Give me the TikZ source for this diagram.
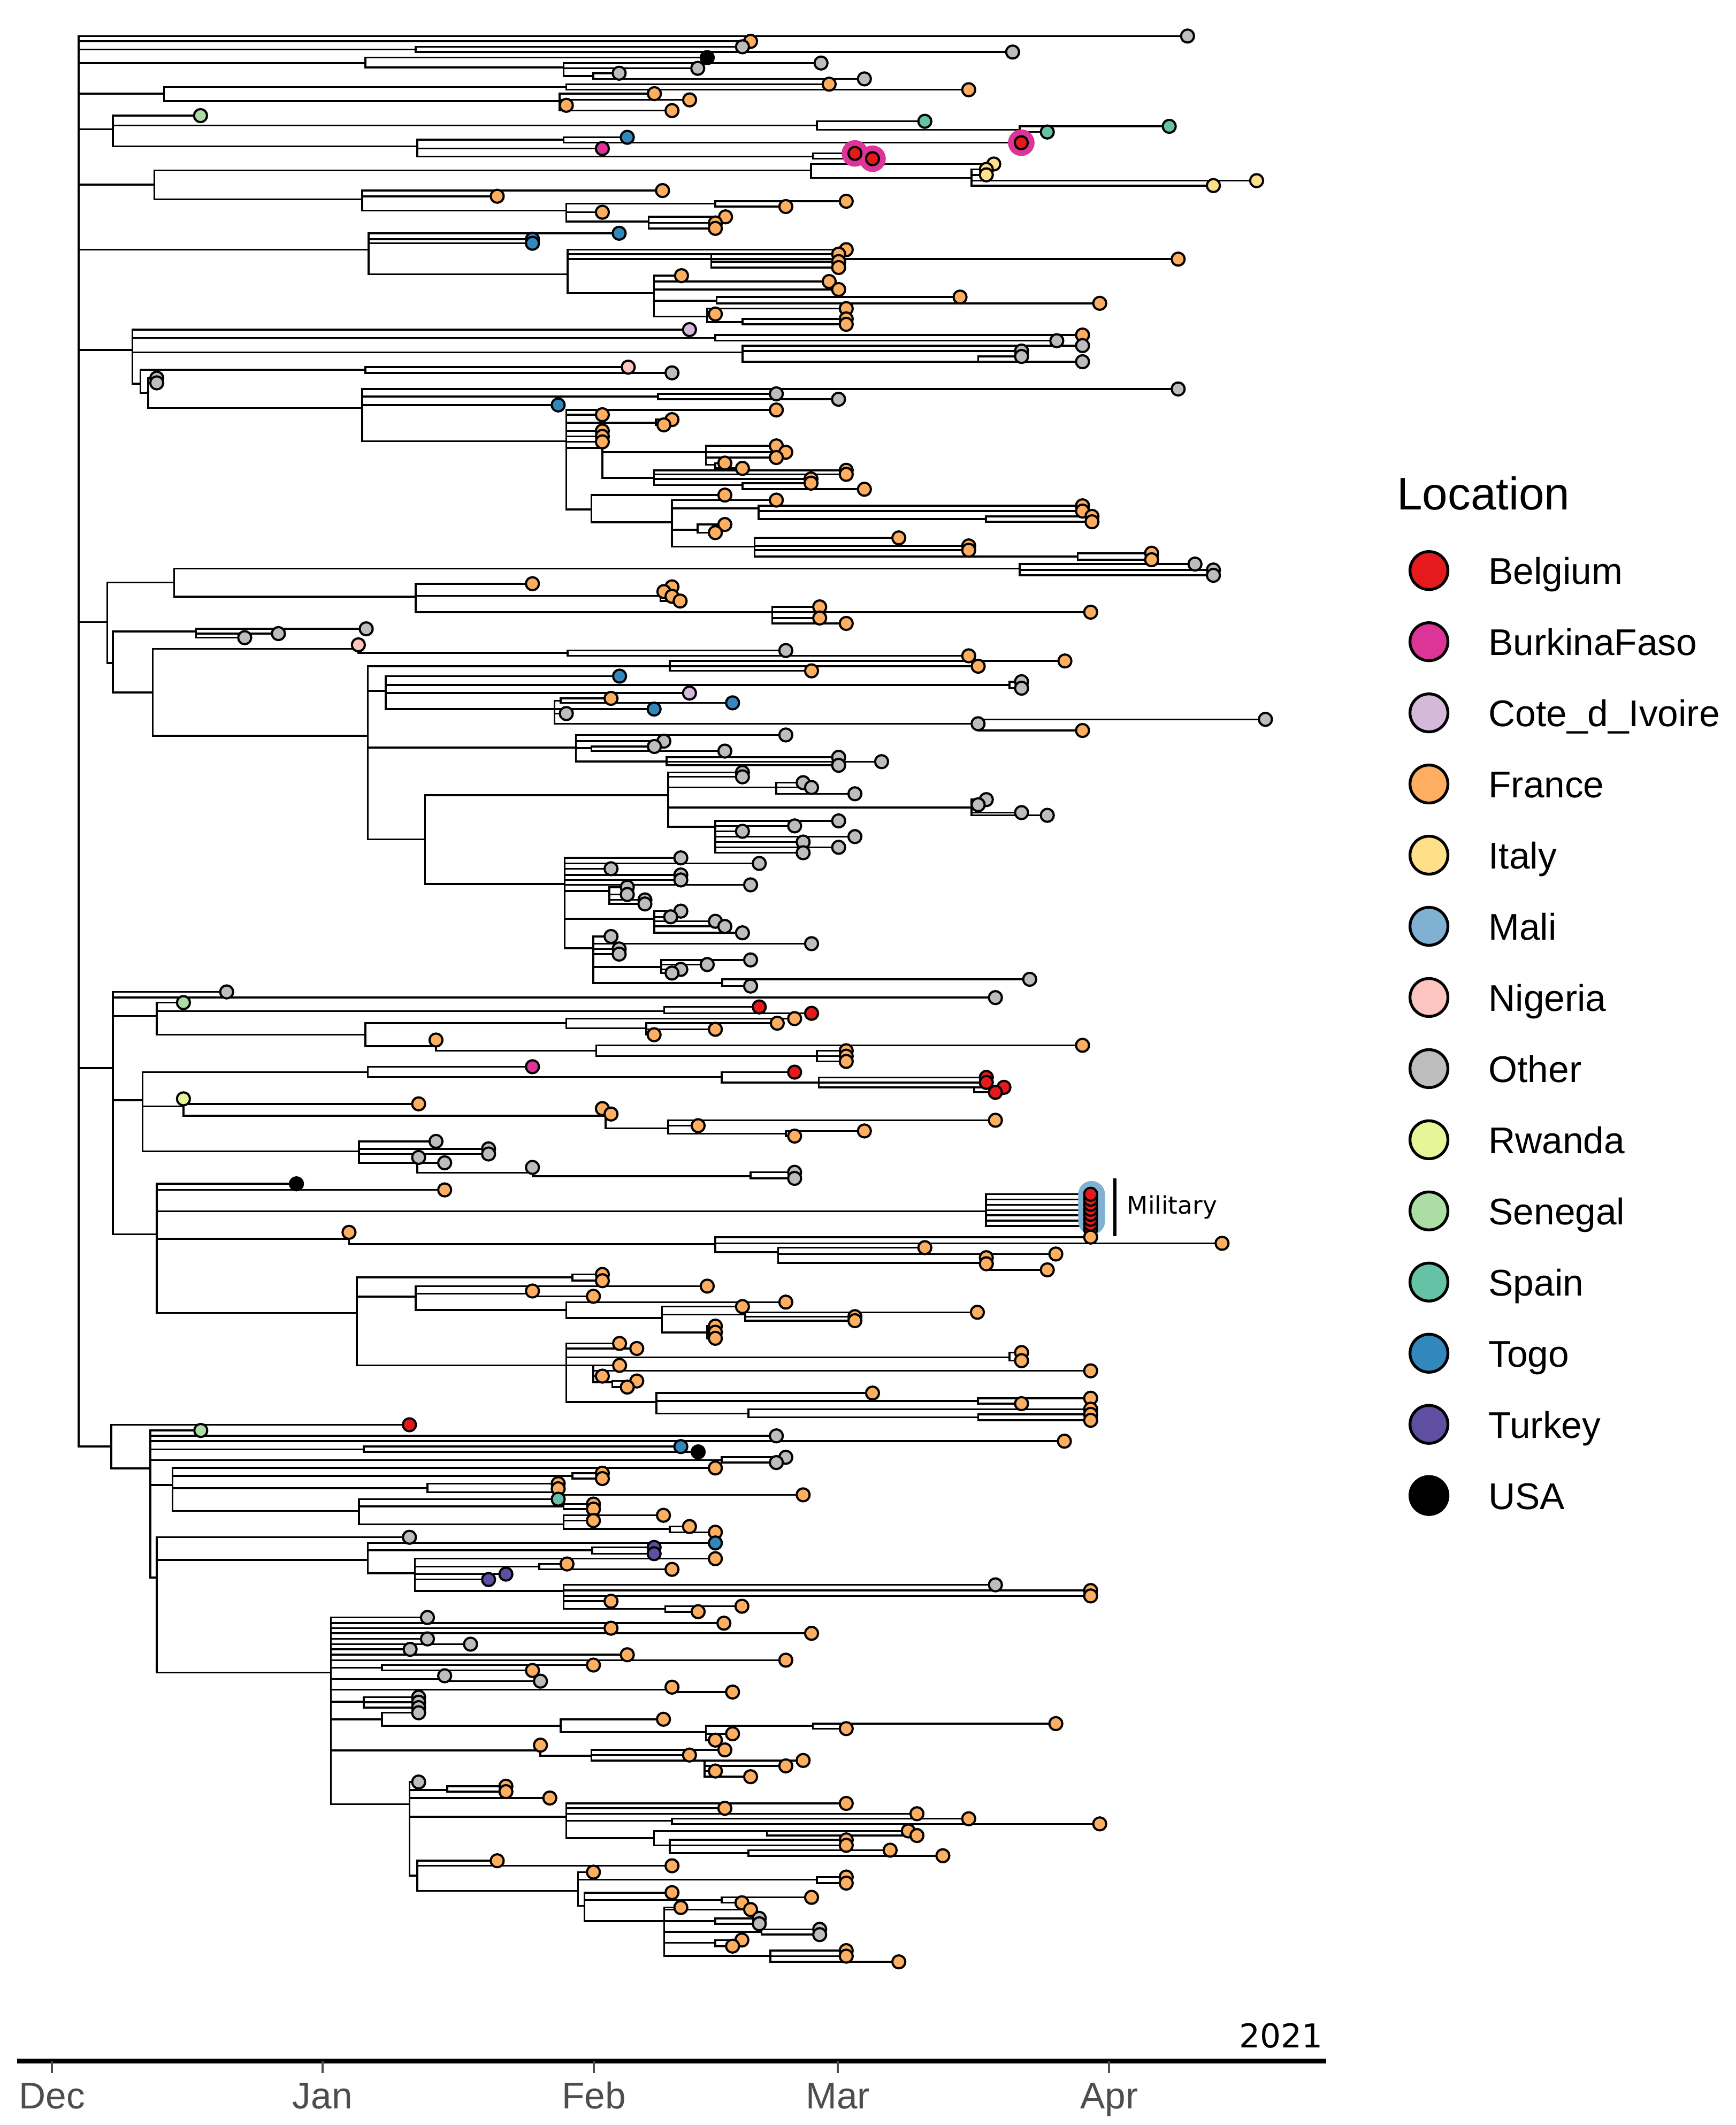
\documentclass[tikz,border=0pt]{standalone}
\usepackage{fontspec}
\setmainfont{Liberation Sans}
\newfontfamily\dvs{DejaVu Sans}
\definecolor{cB}{HTML}{E41A1C}
\definecolor{cK}{HTML}{DD3497}
\definecolor{cC}{HTML}{D4B9DA}
\definecolor{cF}{HTML}{FDAE61}
\definecolor{cI}{HTML}{FEE08B}
\definecolor{cM}{HTML}{80B1D3}
\definecolor{cN}{HTML}{FCC5C0}
\definecolor{cO}{HTML}{BDBDBD}
\definecolor{cR}{HTML}{E6F598}
\definecolor{cS}{HTML}{ABDDA4}
\definecolor{cE}{HTML}{66C2A5}
\definecolor{cT}{HTML}{3288BD}
\definecolor{cU}{HTML}{5E4FA2}
\definecolor{cA}{HTML}{000000}
\definecolor{axgrey}{HTML}{4D4D4D}
\tikzset{
  br/.style={line width=0.4pt, line cap=rect},
  tipst/.style={draw=black, line width=0.45pt},
  legtext/.style={font=\fontsize{7.8}{9}\selectfont, inner sep=0pt},
  monthst/.style={font=\fontsize{7.8}{9}\selectfont, text=axgrey, inner sep=0pt},
}
\makeatletter
\newcommand\tiplist{}
\newcommand\halolist{}
\newcommand\HL[3]{\draw[br] (#1,#3) -- (#2,#3);}
\newcommand\VL[3]{\draw[br] (#1,#2) -- (#1,#3);}
\newcommand\TP[3]{\g@addto@macro\tiplist{\filldraw[tipst,fill=c#3] (#1,#2) circle[radius=0.48mm];}}
\newcommand\LT[4]{\HL{#1}{#2}{#3}\TP{#2}{#3}{#4}}
\newcommand\HALO[3]{\g@addto@macro\halolist{\fill[c#3] (#1,#2) circle[radius=0.98mm];}}
\makeatother
\begin{document}
\begin{tikzpicture}[x=0.1mm,y=-0.1mm]
\useasboundingbox (0,0) rectangle (1281,1568);
\fill[white] (0,0) rectangle (1281,1568);
% ---------------- root
\VL{58}{26.6}{1067.4}
\LT{58}{876.5}{26.6}{O}
\LT{58}{554}{30.5}{F}
\HL{58}{306.8}{36.5}\VL{306.8}{34.5}{38.4}\LT{306.8}{548}{34.5}{O}\LT{306.8}{747.4}{38.4}{O}
\HL{58}{269.7}{46.5}\VL{269.7}{42.5}{49.8}\LT{269.7}{522}{42.5}{A}\HL{269.7}{416}{49.8}
\VL{416}{46.5}{56}\LT{416}{606}{46.5}{O}\LT{416}{515}{50.4}{O}\HL{416}{438}{56}
\VL{438}{54}{58.2}\LT{438}{457}{54}{O}\LT{438}{638}{58.2}{O}
\HL{58}{121}{69.1}\VL{121}{64.2}{74.6}
\HL{121}{418}{64.2}\VL{418}{62.1}{66.2}\LT{418}{612}{62.1}{F}\LT{418}{715}{66.2}{F}
\HL{121}{413}{74.6}\VL{413}{69.1}{81.6}\LT{413}{483}{69.1}{F}\LT{413}{509}{73.7}{F}\LT{413}{418}{77.7}{F}\LT{413}{496}{81.6}{F}
\HL{58}{83.3}{95.4}\VL{83.3}{85.3}{107.9}
\LT{83.3}{148}{85.3}{S}
\HL{83.3}{603}{92.5}\VL{603}{89.5}{95.8}\LT{603}{682.6}{89.5}{E}\HL{603}{752.6}{95.8}
\VL{752.6}{93.2}{97.4}\LT{752.6}{863}{93.2}{E}\LT{752.6}{773}{97.4}{E}
\HL{83.3}{308}{107.9}\VL{308}{103}{115.4}
\HL{308}{416}{103}\VL{416}{101.3}{105.3}\LT{416}{463}{101.3}{T}\LT{416}{753.8}{105.3}{B}\HALO{753.8}{105.3}{K}
\LT{308}{444.6}{109.6}{K}
\HL{308}{600}{115.4}\VL{600}{113.2}{117.1}\LT{600}{631}{113.2}{B}\LT{600}{644}{117.1}{B}\HALO{631}{113.2}{K}\HALO{644}{117.1}{K}
\HL{58}{114}{136.2}\VL{114}{125.7}{147}
\HL{114}{598.6}{125.7}\VL{598.6}{121}{131.3}\LT{598.6}{733.5}{121}{I}\HL{598.6}{717}{131.3}
\VL{717}{125}{136.9}\LT{717}{728}{125}{I}\LT{717}{728}{129}{I}\LT{717}{927.5}{133.3}{I}\LT{717}{895.6}{136.9}{I}
\HL{114}{267.4}{147}\VL{267.4}{140.6}{155.3}
\LT{267.4}{489}{140.6}{F}\LT{267.4}{367}{144.8}{F}
\HL{267.4}{418}{155.3}\VL{418}{150.3}{163.5}
\HL{418}{528}{150.3}\VL{528}{148.5}{152.4}\LT{528}{624.6}{148.5}{F}\LT{528}{580}{152.4}{F}
\LT{418}{444.6}{156.6}{F}
\HL{418}{478.7}{163.5}\VL{478.7}{160}{168.5}\LT{478.7}{535.5}{160}{F}\LT{478.7}{528}{164.5}{F}\LT{478.7}{528}{168.5}{F}
\HL{58}{272}{184.2}\VL{272}{172.1}{202.3}
\LT{272}{457}{172.1}{T}\LT{272}{393}{176.5}{T}\LT{272}{393}{179.5}{T}
\HL{272}{419}{202.3}\VL{419}{184.2}{216.1}
\LT{419}{624.6}{184.2}{F}
\HL{419}{525}{187.5}\VL{525}{187.5}{197.4}\LT{525}{619}{187.5}{F}\LT{525}{619}{193}{F}\LT{525}{619}{197.4}{F}
\LT{419}{869.6}{191.2}{F}
\HL{419}{482.8}{216.1}\VL{482.8}{203.4}{233.6}
\LT{482.8}{503}{203.4}{F}\LT{482.8}{612}{207.7}{F}\LT{482.8}{619}{213.6}{F}
\HL{482.8}{529}{221.8}\VL{529}{219.2}{223.8}\LT{529}{708.6}{219.2}{F}\LT{529}{811.7}{223.8}{F}
\HL{482.8}{522}{233.6}\VL{522}{227.7}{237.6}\LT{522}{624.6}{227.7}{F}\LT{522}{528}{231.7}{F}
\HL{522}{548}{237.6}\VL{548}{235.3}{239.3}\LT{548}{624.6}{235.3}{F}\LT{548}{624.6}{239.3}{F}
% ---------------- clade 258
\HL{58}{97.8}{258.2}\VL{97.8}{243.2}{283}
\LT{97.8}{508.9}{243.2}{C}
\HL{97.8}{528}{249.4}\VL{528}{247.2}{251.4}\LT{528}{799}{247.2}{F}\LT{528}{780}{251.4}{O}
\HL{97.8}{548}{260}\VL{548}{255}{266.9}\LT{548}{799}{255}{O}\LT{548}{754}{259}{O}
\HL{548}{722}{266.9}\VL{722}{263}{266.9}\LT{722}{754}{263}{O}\LT{722}{799}{266.9}{O}
\HL{97.8}{103.6}{283}\VL{103.6}{272.8}{290}
\HL{103.6}{269.7}{272.8}\VL{269.7}{270.9}{275.1}\LT{269.7}{463.7}{270.9}{N}\LT{269.7}{496}{275.1}{O}
\HL{103.6}{109.4}{290}\VL{109.4}{279}{301.1}
\LT{109.4}{115.7}{279}{O}\LT{109.4}{115.7}{282.5}{O}
\HL{109.4}{267.4}{301.1}\VL{267.4}{287}{325.5}
\LT{267.4}{869.6}{287}{O}
\HL{267.4}{485.7}{292.6}\VL{485.7}{290.6}{294.6}\LT{485.7}{573}{290.6}{O}\LT{485.7}{618.9}{294.6}{O}
\LT{267.4}{412}{298.8}{T}
\HL{267.4}{418}{325.5}\VL{418}{302.5}{375.8}
\LT{418}{573}{302.5}{F}\LT{418}{444.6}{306}{F}
\HL{418}{484}{312}\VL{484}{309.6}{313.5}\LT{484}{496}{309.6}{F}\LT{484}{490}{313.5}{F}
\LT{418}{444.6}{318}{F}\LT{418}{444.6}{322}{F}\LT{418}{444.6}{326}{F}
\HL{418}{444.6}{330.4}\VL{444.6}{330.4}{352.7}
\HL{444.6}{521}{333.7}\VL{521}{329}{343}\LT{521}{573}{329}{F}\LT{521}{580}{333.7}{F}\LT{521}{573}{337.6}{F}
\HL{521}{528}{343}\VL{528}{341.7}{345.6}\LT{528}{535}{341.7}{F}\LT{528}{548}{345.6}{F}
\HL{444.6}{482.8}{352.7}\VL{482.8}{347}{358}
\LT{482.8}{624.6}{347}{F}\LT{482.8}{624.6}{350}{F}\LT{482.8}{598.6}{353.4}{F}
\HL{482.8}{548}{358}\VL{548}{356.5}{361}\LT{548}{598.6}{356.5}{F}\LT{548}{638}{361}{F}
\HL{418}{436.5}{375.8}\VL{436.5}{365.3}{385.4}
\LT{436.5}{535}{365.3}{F}
\HL{436.5}{496}{385.4}\VL{496}{369}{403.4}
\LT{496}{573}{369}{F}
\HL{496}{560}{375}\VL{560}{373.2}{383}\LT{560}{799}{373.2}{F}\LT{560}{799}{377.1}{F}
\HL{560}{727.7}{383}\VL{727.7}{381}{385}\LT{727.7}{806}{381}{F}\LT{727.7}{806}{385}{F}
\HL{496}{515}{390.9}\VL{515}{387}{393}\LT{515}{535}{387}{F}\LT{515}{528}{393}{F}
\HL{496}{557}{403.4}\VL{557}{396.9}{410.7}
\LT{557}{663.4}{396.9}{F}\LT{557}{715}{402.8}{F}\LT{557}{715}{406}{F}
\HL{557}{795.5}{410.7}\VL{795.5}{408.2}{413}\LT{795.5}{850}{408.2}{F}\LT{795.5}{850}{413}{F}
% ---------------- clade 459
\HL{58}{79.2}{459.1}\VL{79.2}{429.8}{489.2}
\HL{79.2}{128.5}{429.8}\VL{128.5}{419.6}{440.3}
\HL{128.5}{752.6}{419.6}\VL{752.6}{416.2}{424.5}\LT{752.6}{882}{416.2}{O}\LT{752.6}{895.6}{420.6}{O}\LT{752.6}{895.6}{424.5}{O}
\HL{128.5}{306.8}{440.3}\VL{306.8}{430.7}{451.8}
\LT{306.8}{393}{430.7}{F}
\HL{306.8}{487.5}{439.6}\VL{487.5}{433}{443.5}\LT{487.5}{496}{433}{F}\LT{487.5}{490}{436.5}{F}\LT{487.5}{496}{440}{F}\LT{487.5}{502}{443.5}{F}
\HL{306.8}{570}{451.8}\VL{570}{447.8}{460}\LT{570}{605}{447.8}{F}\LT{570}{805}{451.7}{F}\LT{570}{605}{456}{F}\LT{570}{624.6}{460}{F}
\HL{79.2}{83.3}{489.2}\VL{83.3}{466}{511}
\HL{83.3}{144.7}{466}\VL{144.7}{464}{470.5}\LT{144.7}{270.3}{464}{O}\LT{144.7}{205.5}{467.5}{O}\LT{144.7}{180.6}{470.5}{O}
\HL{83.3}{112.8}{511}\VL{112.8}{478.8}{543}
\HL{112.8}{264.5}{478.8}\VL{264.5}{475.8}{481.7}\TP{264.5}{475.8}{N}
\HL{264.5}{419}{481.7}\VL{419}{480}{483.9}\LT{419}{580}{480}{O}\LT{419}{715}{483.9}{F}
\HL{112.8}{271.5}{543}\VL{271.5}{491.6}{619.3}
\HL{271.5}{494.4}{491.6}\VL{494.4}{487.7}{495}\LT{494.4}{786}{487.7}{F}\LT{494.4}{722}{491.6}{F}\LT{494.4}{599}{495}{F}
\HL{271.5}{284.8}{509.8}\VL{284.8}{498.9}{523.2}
\LT{284.8}{457.3}{498.9}{T}
\HL{284.8}{745}{505.4}\VL{745}{503}{507.8}\LT{745}{754}{503}{O}\LT{745}{754}{507.8}{O}
\LT{284.8}{508.9}{511.4}{C}
\HL{284.8}{409.3}{523.2}\VL{409.3}{517}{534}
\HL{409.3}{413.9}{517}\VL{413.9}{515.3}{518.6}\LT{413.9}{451}{515.3}{F}\LT{413.9}{540.7}{518.6}{T}
\LT{409.3}{482.8}{523.2}{T}
\LT{409.3}{418}{526.5}{O}
\HL{409.3}{721.9}{534}\VL{721.9}{530.8}{539}\TP{721.9}{534}{O}\LT{721.9}{934}{530.8}{O}\LT{721.9}{799}{539}{F}
\HL{271.5}{425}{551.5}\VL{425}{542.3}{561.8}
\LT{425}{580}{542.3}{O}\LT{425}{490}{546.9}{O}
\HL{425}{436.5}{552}\VL{436.5}{550.8}{554.2}\LT{436.5}{483}{550.8}{O}\LT{436.5}{535}{554.2}{O}
\HL{425}{492}{561.8}\VL{492}{558.8}{564.7}\LT{492}{619}{558.8}{O}\LT{492}{650.7}{562}{O}\LT{492}{619}{564.7}{O}
\HL{271.5}{313.7}{619.3}\VL{313.7}{586.7}{652.2}
\HL{313.7}{493.2}{586.7}\VL{493.2}{570}{610.1}
\LT{493.2}{548}{570}{O}\LT{493.2}{548}{573.2}{O}
\HL{493.2}{573}{581.1}\VL{573}{577.5}{585.7}\LT{573}{592.8}{577.5}{O}\LT{573}{599}{581.1}{O}\LT{573}{631}{585.7}{O}
\HL{493.2}{717}{595.9}\VL{717}{590}{601.6}\LT{717}{728}{590}{O}\LT{717}{722}{593.8}{O}\LT{717}{754}{599.6}{O}\LT{717}{773}{601.6}{O}
\HL{493.2}{528}{610.1}\VL{528}{605.7}{629.2}\LT{528}{619}{605.7}{O}\LT{528}{586.5}{609.4}{O}\LT{528}{548}{613.4}{O}\LT{528}{631}{617.3}{O}\LT{528}{592.8}{621.3}{O}\LT{528}{619}{625.2}{O}\LT{528}{592.8}{629.2}{O}
\HL{313.7}{416.8}{652.2}\VL{416.8}{633}{699.6}
\LT{416.8}{502.5}{633}{O}\LT{416.8}{560.4}{637.1}{O}\LT{416.8}{451}{641}{O}\LT{416.8}{502.5}{645.6}{O}\LT{416.8}{502.5}{649.3}{O}\LT{416.8}{554}{652.9}{O}
\HL{416.8}{449.8}{657.5}\VL{449.8}{654.6}{667}\LT{449.8}{463}{654.6}{O}\LT{449.8}{463}{660}{O}\LT{449.8}{476}{664}{O}\LT{449.8}{476}{667}{O}
\HL{416.8}{483}{677.9}\VL{483}{672.3}{688.3}\LT{483}{502.5}{672.3}{O}\LT{483}{495}{676.5}{O}\LT{483}{528}{679.8}{O}\LT{483}{535}{683.6}{O}\LT{483}{548}{688.3}{O}
\HL{416.8}{438}{699.6}\VL{438}{691}{725.3}
\LT{438}{451}{691}{O}\LT{438}{599}{696.3}{O}\LT{438}{457}{700.2}{O}\LT{438}{457}{704}{O}
\HL{438}{488}{713.4}\VL{488}{708.3}{718}\LT{488}{554}{708.3}{O}\LT{488}{522}{711.7}{O}\LT{488}{502.5}{715.3}{O}\LT{488}{496}{718}{O}
\HL{438}{533}{725.3}\VL{533}{722.6}{727.6}\LT{533}{760}{722.6}{O}\LT{533}{554}{727.6}{O}
% ---------------- clade 788
\HL{58}{83.3}{788.2}\VL{83.3}{731.9}{910.8}
\LT{83.3}{167.3}{731.9}{O}
\LT{83.3}{734.7}{736.1}{O}
\HL{83.3}{115.7}{749.6}\VL{115.7}{739.8}{763.4}
\LT{115.7}{135.4}{739.8}{S}
\HL{115.7}{490.3}{746.1}\VL{490.3}{743}{747.7}\LT{490.3}{560.4}{743}{B}\LT{490.3}{599}{747.7}{B}
\HL{115.7}{269.7}{763.4}\VL{269.7}{754.9}{772}
\HL{269.7}{418}{754.9}\VL{418}{751.6}{758.8}\LT{418}{586.5}{751.6}{F}
\HL{418}{477}{758.8}\VL{477}{755}{763.5}\LT{477}{573.7}{755}{F}\LT{477}{528}{759.5}{F}\LT{477}{482.8}{763.5}{F}
\HL{269.7}{321.8}{772}\VL{321.8}{767.4}{775.3}\TP{321.8}{767.4}{F}
\HL{321.8}{440}{775.3}\VL{440}{771.3}{779.3}\LT{440}{799}{771.3}{F}
\HL{440}{603}{779.3}\VL{603}{775.3}{783.2}\LT{603}{624.6}{775.3}{F}\LT{603}{624.6}{779.3}{F}\LT{603}{624.6}{783.2}{F}
\HL{83.3}{105.3}{811.9}\VL{105.3}{791.1}{849.6}
\HL{105.3}{271.5}{791.1}\VL{271.5}{787.1}{794.6}\LT{271.5}{393}{787.1}{K}
\HL{271.5}{532.6}{794.6}\VL{532.6}{791.1}{798.7}\LT{532.6}{586.5}{791.1}{B}
\HL{532.6}{604.4}{798.7}\VL{604.4}{795}{802.3}\LT{604.4}{728}{795}{B}\LT{604.4}{728}{798.7}{B}
\HL{604.4}{719}{802.3}\VL{719}{802.3}{806}\LT{719}{741}{802.3}{B}\LT{719}{734.7}{806}{B}
\HL{105.3}{135.4}{816.3}\VL{135.4}{810.8}{823.3}\TP{135.4}{810.8}{R}
\LT{135.4}{309}{814.5}{F}
\HL{135.4}{447}{823.3}\VL{447}{818}{832.5}\TP{444.6}{818}{F}\LT{447}{451}{822}{F}
\HL{447}{493.2}{832.5}\VL{493.2}{826.6}{836.5}\LT{493.2}{734.7}{826.6}{F}\LT{493.2}{515.3}{830.6}{F}
\HL{493.2}{580}{836.5}\VL{580}{834.5}{838.3}\LT{580}{638}{834.5}{F}\LT{580}{586.5}{838.3}{F}
\HL{105.3}{265}{849.6}\VL{265}{842.2}{858}
\LT{265}{321.8}{842.2}{O}\LT{265}{360.6}{847.7}{O}\LT{265}{360.6}{851.5}{O}
\HL{265}{308}{858}\VL{308}{854}{865.4}\TP{309}{854}{O}\LT{308}{328.2}{858}{O}
\HL{308}{393}{865.4}\VL{393}{861.4}{868}\TP{393}{861.4}{O}
\HL{393}{554}{868}\VL{554}{865}{869.5}\LT{554}{586.5}{865}{O}\LT{554}{586.5}{869.5}{O}
\HL{83.3}{115.7}{910.8}\VL{115.7}{873.5}{968.7}
\LT{115.7}{218.8}{873.5}{A}
\LT{115.7}{328.2}{878}{F}
% military
\HL{115.7}{727.7}{893.7}\VL{727.7}{881.2}{904.6}
\HL{727.7}{805}{881.2}\HL{727.7}{805}{885.1}\HL{727.7}{805}{889}\HL{727.7}{805}{892.9}
\HL{727.7}{805}{896.8}\HL{727.7}{805}{900.7}\HL{727.7}{805}{904.6}
\fill[cM, rounded corners=0.99mm] (795.8,871.4) rectangle (815.6,911);
\TP{805}{907.1}{B}\TP{805}{903.4}{B}\TP{805}{899.7}{B}\TP{805}{896}{B}
\TP{805}{892.3}{B}\TP{805}{888.6}{B}\TP{805}{884.9}{B}\TP{805}{881.2}{B}
\draw[line width=0.7pt] (823,869.6) -- (823,912.1);
\node[anchor=base west, inner sep=0pt, font=\dvs\fontsize{5.1}{6}\selectfont] (mil) at (831.2,895.7) {Military};
\HL{115.7}{257.6}{914.1}\VL{257.6}{909.3}{918}\TP{257.6}{909.3}{F}
\HL{257.6}{528}{918}\VL{528}{912.8}{924}\LT{528}{805}{912.8}{F}\LT{528}{902}{917.4}{F}
\HL{528}{574.3}{924}\VL{574.3}{920.6}{931.8}\LT{574.3}{682.6}{920.6}{F}\LT{574.3}{779.3}{925.3}{F}
\HL{574.3}{728}{931.8}\VL{728}{928}{937}\TP{728}{928}{F}\TP{728}{932.5}{F}\LT{728}{773}{937}{F}
\HL{115.7}{263.4}{968.7}\VL{263.4}{942.6}{1007.5}
\HL{263.4}{422.6}{942.6}\VL{422.6}{940.4}{945}\LT{422.6}{444.6}{940.4}{F}\LT{422.6}{444.6}{945}{F}
\HL{263.4}{306.8}{956.8}\VL{306.8}{949}{966.7}
\LT{306.8}{522}{949}{F}
\HL{306.8}{393}{954.5}\VL{393}{952.6}{956.5}\TP{393}{952.6}{F}\LT{393}{438}{956.5}{F}
\HL{306.8}{418}{966.7}\VL{418}{960.8}{972.6}
\LT{418}{580}{960.8}{F}
\HL{418}{488.6}{972.6}\VL{488.6}{964.1}{983.2}
\LT{488.6}{548}{964.1}{F}
\HL{488.6}{550}{970}\VL{550}{968.3}{974.5}\LT{550}{721.4}{968.3}{F}\LT{550}{631}{971.5}{F}\LT{550}{631}{974.5}{F}
\HL{488.6}{522}{983.2}\VL{522}{978.5}{987.5}\LT{522}{528}{978.5}{F}\LT{522}{528}{983}{F}\LT{522}{528}{987.5}{F}
\HL{263.4}{418}{1007.5}\VL{418}{991.3}{1034.5}
\LT{418}{457.3}{991.3}{F}\LT{418}{470}{995}{F}
\HL{418}{745}{1001.6}\VL{745}{998}{1004}\LT{745}{754}{998}{F}\LT{745}{754}{1004}{F}
\HL{418}{438}{1007.5}\VL{438}{1007.5}{1020}\LT{438}{457.3}{1007.5}{F}\LT{438}{805}{1011.5}{F}\LT{438}{444.6}{1015.4}{F}
\HL{438}{452}{1020}\VL{452}{1019}{1023.5}\LT{452}{470}{1019}{F}\LT{452}{463}{1023.5}{F}
\HL{418}{484.6}{1034.5}\VL{484.6}{1027.9}{1043}
\LT{484.6}{644}{1027.9}{F}
\HL{484.6}{721.9}{1033.8}\VL{721.9}{1031.7}{1035.7}\LT{721.9}{805}{1031.7}{F}\LT{721.9}{754}{1035.7}{F}
\HL{484.6}{552.3}{1043}\VL{552.3}{1039.8}{1045.7}\LT{552.3}{805}{1039.8}{F}
\HL{552.3}{722}{1045.7}\VL{722}{1043.6}{1048}\LT{722}{805}{1043.6}{F}\LT{722}{805}{1048}{F}
% ---------------- clade 1067
\HL{58}{82.1}{1067.4}\VL{82.1}{1051.3}{1083.5}
\LT{82.1}{302.2}{1051.3}{B}
\HL{82.1}{111}{1083.5}\VL{111}{1055.5}{1164}
\LT{111}{148.2}{1055.5}{S}
\LT{111}{573}{1059.5}{O}
\LT{111}{785.6}{1063.4}{F}
\HL{111}{268.6}{1069.4}\VL{268.6}{1067.4}{1071.3}\LT{268.6}{502.5}{1067.4}{T}\LT{268.6}{515.3}{1071.3}{A}
\HL{111}{532.6}{1077.3}\VL{532.6}{1075.3}{1079.2}\LT{532.6}{580}{1075.3}{O}\LT{532.6}{573}{1079.2}{O}
\HL{111}{127.3}{1095.7}\VL{127.3}{1083.2}{1114.8}
\LT{127.3}{528}{1083.2}{F}
\HL{127.3}{422.6}{1089.1}\VL{422.6}{1087}{1091}\LT{422.6}{444.6}{1087}{F}\LT{422.6}{444.6}{1091}{F}
\HL{127.3}{315.5}{1098}\VL{315.5}{1094.7}{1101}\LT{315.5}{412}{1094.7}{F}
\HL{315.5}{412}{1101}\VL{412}{1098.5}{1103}\TP{412}{1098.5}{F}\LT{412}{592.8}{1103}{F}
\HL{127.3}{265}{1114.8}\VL{265}{1106.2}{1124.7}
\LT{265}{412}{1106.2}{E}
\HL{265}{416}{1111.5}\VL{416}{1109.8}{1113.5}\LT{416}{438}{1109.8}{F}\LT{416}{438}{1113.5}{F}
\HL{265}{416}{1124.7}\VL{416}{1118.1}{1128.2}\LT{416}{489.7}{1118.1}{F}\LT{416}{438}{1122}{F}
\HL{416}{494.4}{1128.2}\VL{494.4}{1126.4}{1130.6}\LT{494.4}{508.9}{1126.4}{F}\LT{494.4}{528}{1130.6}{F}
\HL{111}{115.7}{1164}\VL{115.7}{1134.3}{1234.2}
\LT{115.7}{302.2}{1134.3}{O}
\HL{115.7}{271.5}{1151}\VL{271.5}{1138.5}{1160.9}
\LT{271.5}{528}{1138.5}{T}
\HL{271.5}{437}{1143.8}\VL{437}{1141.8}{1146.4}\LT{437}{482.8}{1141.8}{U}\LT{437}{482.8}{1146.4}{U}
\HL{271.5}{306.2}{1160.9}\VL{306.2}{1150.1}{1174}
\LT{306.2}{528}{1150.1}{F}
\HL{306.2}{398}{1156}\VL{398}{1154}{1158}\LT{398}{418.5}{1154}{F}\LT{398}{496}{1158}{F}
\LT{306.2}{373.4}{1161.5}{U}\LT{306.2}{360.6}{1165.5}{U}
\HL{306.2}{416}{1174}\VL{416}{1169.4}{1187.2}
\LT{416}{734.7}{1169.4}{O}\LT{416}{805}{1173.6}{F}\LT{416}{805}{1177.6}{F}\LT{416}{451}{1181.5}{F}
\HL{416}{491}{1187.2}\VL{491}{1185.2}{1189.2}\LT{491}{547.6}{1185.2}{F}\LT{491}{515.3}{1189.2}{F}
\HL{115.7}{244.3}{1234.2}\VL{244.3}{1193.5}{1331.3}
\LT{244.3}{315.5}{1193.5}{O}
\LT{244.3}{534.3}{1197.7}{F}
\LT{244.3}{451}{1201.4}{F}
\LT{244.3}{599}{1205.2}{F}
\LT{244.3}{315.5}{1209.3}{O}
\LT{244.3}{347.3}{1213.2}{O}
\LT{244.3}{302.7}{1217}{O}
\LT{244.3}{463}{1221}{F}
\LT{244.3}{580}{1225}{F}
\HL{244.3}{281.9}{1230.6}\VL{281.9}{1228.6}{1232.6}\LT{281.9}{438}{1228.6}{F}\LT{281.9}{393}{1232.6}{F}
\HL{244.3}{328.2}{1238.8}\VL{328.2}{1236.5}{1240.5}\TP{328.2}{1236.5}{O}\LT{328.2}{398.9}{1240.5}{O}
\HL{244.3}{496}{1246.7}\VL{496}{1244.9}{1248.5}\TP{496}{1244.9}{F}\LT{496}{540.7}{1248.5}{F}
\HL{244.3}{268.6}{1255.6}\VL{268.6}{1252.3}{1260}\LT{268.6}{309}{1252.3}{O}\LT{268.6}{309}{1256}{O}\LT{268.6}{309}{1260}{O}
\HL{244.3}{281.9}{1268.6}\VL{281.9}{1263.8}{1273.4}\LT{281.9}{309}{1263.8}{O}
\HL{281.9}{413.9}{1273.4}\VL{413.9}{1268.6}{1278}\LT{413.9}{489.7}{1268.6}{F}
\HL{413.9}{521}{1278}\VL{521}{1273.4}{1284}
\HL{521}{600}{1273.4}\VL{600}{1271.8}{1275.5}\LT{600}{779.3}{1271.8}{F}\LT{600}{624.6}{1275.5}{F}
\LT{521}{540.7}{1279.3}{F}\LT{521}{528}{1284}{F}
\HL{244.3}{398.9}{1291.6}\VL{398.9}{1287.7}{1295.5}\TP{398.9}{1287.7}{F}
\HL{398.9}{436.5}{1295.5}\VL{436.5}{1291.2}{1299}\LT{436.5}{535}{1291.2}{F}\LT{436.5}{508.9}{1295}{F}
\HL{436.5}{520}{1299}\VL{520}{1299}{1311}\LT{520}{592.8}{1299}{F}\LT{520}{580}{1303}{F}\LT{520}{528}{1306.8}{F}\LT{520}{554}{1311}{F}
\HL{244.3}{302.2}{1331.3}\VL{302.2}{1314.9}{1384}
\LT{302.2}{309}{1314.9}{O}
\HL{302.2}{330}{1320.8}\VL{330}{1318}{1322}\LT{330}{373.4}{1318}{F}\LT{330}{373.4}{1322}{F}
\LT{302.2}{405.8}{1326.7}{F}
\HL{302.2}{418}{1340.5}\VL{418}{1330.7}{1356.3}
\LT{418}{624.6}{1330.7}{F}\LT{418}{535}{1334.3}{F}\LT{418}{676.8}{1338.3}{F}
\HL{418}{496}{1343.5}\VL{496}{1342}{1345.8}\LT{496}{715}{1342}{F}\LT{496}{811.7}{1345.8}{F}
\HL{418}{482.8}{1356.3}\VL{482.8}{1351}{1361.6}
\HL{482.8}{566}{1351}\VL{566}{1351}{1354.4}\LT{566}{670.4}{1351}{F}\LT{566}{676.8}{1354.4}{F}
\HL{482.8}{494.4}{1361.6}\VL{494.4}{1357.6}{1367.5}\LT{494.4}{624.6}{1357.6}{F}\LT{494.4}{624.6}{1361.6}{F}
\HL{494.4}{552.3}{1367.5}\VL{552.3}{1365.2}{1369.3}\LT{552.3}{657}{1365.2}{F}\LT{552.3}{695.9}{1369.3}{F}
\HL{302.2}{308}{1384}\VL{308}{1373}{1395.2}
\LT{308}{367}{1373}{F}\LT{308}{496}{1376.7}{F}
\HL{308}{426.7}{1395.2}\VL{426.7}{1381.4}{1406.3}
\LT{426.7}{438}{1381.4}{F}
\HL{426.7}{603}{1387}\VL{603}{1385}{1389.5}\LT{603}{624.6}{1385}{F}\LT{603}{624.6}{1389.5}{F}
\HL{426.7}{431.3}{1406.3}\VL{431.3}{1396.5}{1417.5}
\LT{431.3}{496}{1396.5}{F}
\HL{431.3}{532.6}{1402}\VL{532.6}{1400}{1404}\LT{532.6}{599}{1400}{F}\LT{532.6}{547.6}{1404}{F}
\HL{431.3}{490.3}{1417.5}\VL{490.3}{1407.5}{1443.2}
\LT{490.3}{502.5}{1407.5}{F}\LT{490.3}{554}{1409}{F}
\HL{490.3}{528}{1417.5}\VL{528}{1415.5}{1419.5}\LT{528}{560.4}{1415.5}{O}\LT{528}{560.4}{1419.5}{O}
\HL{490.3}{562}{1425.5}\VL{562}{1423.6}{1427.5}\LT{562}{605}{1423.6}{O}\LT{562}{605}{1427.5}{O}
\HL{490.3}{528}{1433.5}\VL{528}{1431.5}{1436}\LT{528}{547.6}{1431.5}{F}\LT{528}{540.7}{1436}{F}
\HL{490.3}{568.5}{1443.2}\VL{568.5}{1439.3}{1447.6}\LT{568.5}{624.6}{1439.3}{F}\LT{568.5}{624.6}{1443.4}{F}\LT{568.5}{663.4}{1447.6}{F}
% ---------------- halos and tips on top of the lines
\halolist
\tiplist
% ---------------- axis
\draw[line width=1.05pt] (12.6,1520.8) -- (979,1520.8);
\foreach \xx/\mm in {38.4/Dec,238/Jan,438.3/Feb,618.4/Mar,818.7/Apr} {
  \draw[line width=0.45pt, draw=axgrey] (\xx,1520.8) -- (\xx,1529.5);
  \node[monthst, anchor=base] (m\mm) at (\xx,1555.8) {\mm};
}
\node[anchor=base east, inner sep=0pt, font=\dvs\fontsize{6.9}{8}\selectfont] (yr) at (977,1511.1) {2021};
% ---------------- legend
\node[anchor=base west, inner sep=0pt, font=\fontsize{9.6}{11}\selectfont] (loc) at (1030.4,376) {Location};
\foreach \cc/\tt [count=\i from 0] in {B/Belgium,K/BurkinaFaso,C/Cote\_d\_Ivoire,F/France,I/Italy,M/Mali,N/Nigeria,O/Other,R/Rwanda,S/Senegal,E/Spain,T/Togo,U/Turkey,A/USA} {
  \filldraw[fill=c\cc, draw=black, line width=0.6pt] (1054.7,{421+52.5*\i}) circle[radius=1.4mm];
  \node[legtext, anchor=base west] (leg\i) at (1098,{431+52.5*\i}) {\tt};
}
\end{tikzpicture}
\end{document}
